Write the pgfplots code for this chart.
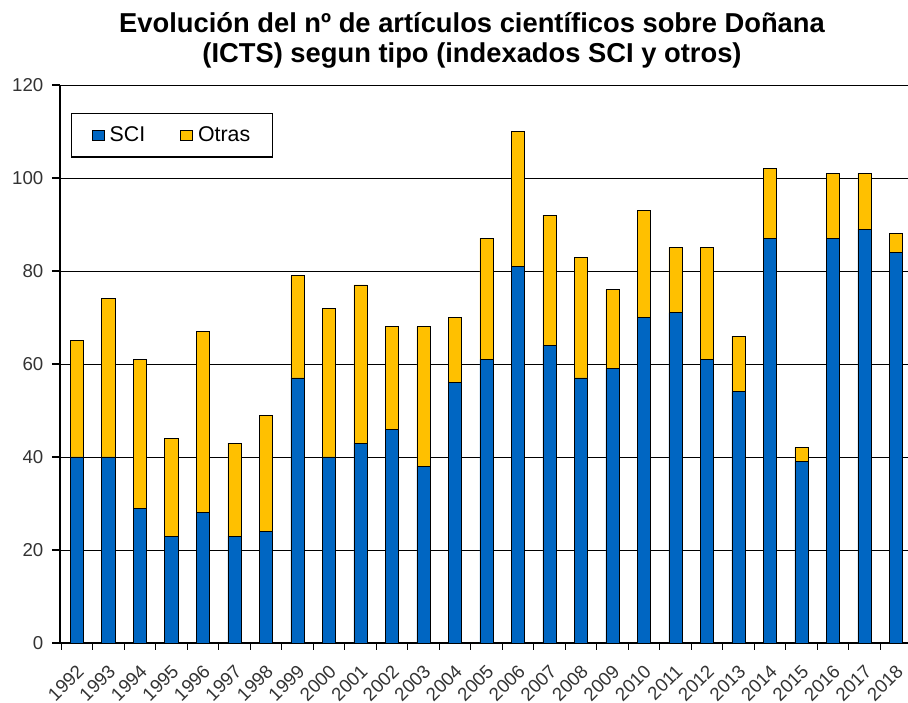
\documentclass[border=0pt]{standalone}
\usepackage{pgfplots}
\pgfplotsset{compat=1.18}
\usepackage{fontspec}
\setmainfont{Liberation Sans}
\definecolor{sciblue}{RGB}{0,102,194}
\definecolor{otrasyel}{RGB}{255,192,0}

\begin{document}
\begin{tikzpicture}
\begin{axis}[
    scale only axis, width=636pt, height=418.5pt,
    ybar stacked, bar width=0.42,
    xmin=-0.54, xmax=26.38, ymin=0, ymax=120,
    xtick={0,...,26},
    xticklabels={1992,1993,1994,1995,1996,1997,1998,1999,2000,2001,2002,2003,2004,2005,2006,2007,2008,2009,2010,2011,2012,2013,2014,2015,2016,2017,2018},
    major x tick style={draw=none},
    minor xtick={-0.5,0.5,...,26.5},
    minor tick length=5pt,
    ytick={0,20,...,120},
    major tick length=6pt,
    tick align=outside,
    axis x line*=bottom, axis y line*=left,
    ymajorgrids, grid style={black, line width=0.6pt},
    axis line style={black, line width=0.8pt},
    tick style={black, line width=0.8pt},
    /pgf/number format/assume math mode=true,
    ticklabel style={font=\fontsize{14}{16}\selectfont, text=black!80},
    yticklabel style={xshift=-3pt},
    % shifts are in the rotated frame
    xticklabel style={rotate=45, anchor=north east, inner sep=1pt, xshift=-6pt, yshift=-4.8pt},
    legend style={at={(rel axis cs:0.013,0.95)}, anchor=north west,
      legend columns=-1, draw=black, line width=0.8pt,
      font=\fontsize{16}{18}\selectfont,
      inner xsep=15pt, inner ysep=8pt,
      nodes={inner xsep=2pt},
      /tikz/every odd column/.append style={column sep=2pt},
      /tikz/every even column/.append style={column sep=24pt}},
    legend image code/.code={\draw[#1, line width=0.6pt] (6.5pt,-3.8pt) rectangle (15.5pt,3.8pt);},
    clip=true,
]
\coordinate (sw) at (rel axis cs:0,0);
\coordinate (ne) at (rel axis cs:1,1);
\addplot[fill=sciblue, draw=black, line width=0.6pt] coordinates {
 (0,40)(1,40)(2,29)(3,23)(4,28)(5,23)(6,24)(7,57)(8,40)(9,43)(10,46)(11,38)(12,56)(13,61)
 (14,81)(15,64)(16,57)(17,59)(18,70)(19,71)(20,61)(21,54)(22,87)(23,39)(24,87)(25,89)(26,84)};
\addplot[fill=otrasyel, draw=black, line width=0.6pt] coordinates {
 (0,25)(1,34)(2,32)(3,21)(4,39)(5,20)(6,25)(7,22)(8,32)(9,34)(10,22)(11,30)(12,14)(13,26)
 (14,29)(15,28)(16,26)(17,17)(18,23)(19,14)(20,24)(21,12)(22,15)(23,3)(24,14)(25,12)(26,4)};
\legend{SCI, Otras}
\end{axis}
\node[font=\bfseries\fontsize{20.5}{23}\selectfont, anchor=base]
  at ([shift={(309pt,39pt)}]sw |- ne) {Evolución del nº de artículos científicos sobre Doñana};
\node[font=\bfseries\fontsize{20.5}{23}\selectfont, anchor=base]
  at ([shift={(309pt,17pt)}]sw |- ne) {(ICTS) segun tipo (indexados SCI y otros)};
\pgfresetboundingbox
\path ([shift={(-45pt,-44.25pt)}]sw) rectangle ([shift={(0pt,63.75pt)}]ne);
\end{tikzpicture}
\end{document}
